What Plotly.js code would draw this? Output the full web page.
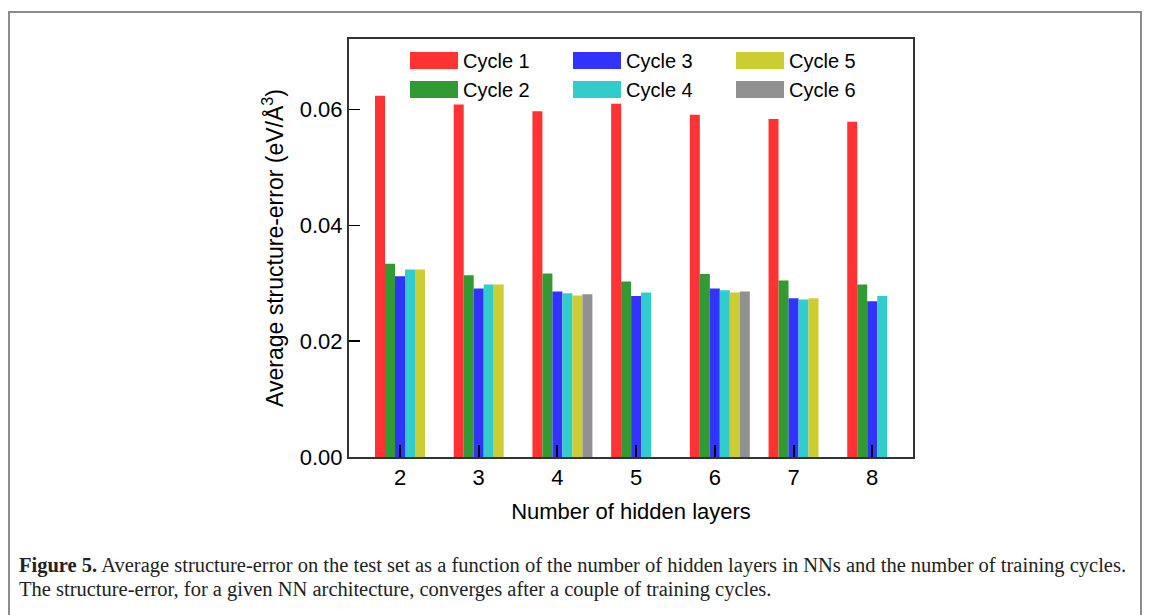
<!DOCTYPE html>
<html>
<head>
<meta charset="utf-8">
<script src="https://cdn.plot.ly/plotly-3.0.1.min.js"></script>
<style>html,body{margin:0;padding:0;background:#fff;}#chart{width:1153px;height:615px;}</style>
</head>
<body>
<div id="chart"></div>
<script>
// ---- data ----
const layers = [2, 3, 4, 5, 6, 7, 8];
const cycleNames = ["Cycle 1", "Cycle 2", "Cycle 3", "Cycle 4", "Cycle 5", "Cycle 6"];
const cycle1 = [0.0624, 0.0609, 0.0597, 0.0610, 0.0591, 0.0584, 0.0579];
const cycle2 = [0.0334, 0.0314, 0.0317, 0.0303, 0.0316, 0.0305, 0.0298];
const cycle3 = [0.0312, 0.0291, 0.0286, 0.0278, 0.0291, 0.0274, 0.0269];
const cycle4 = [0.0324, 0.0298, 0.0283, 0.0284, 0.0288, 0.0272, 0.0278];
const cycle5 = [0.0324, 0.0298, 0.0279, null, 0.0284, 0.0274, null];
const cycle6 = [null, null, 0.0281, null, 0.0286, null, null];
const yTickVals = [0, 0.02, 0.04, 0.06];
const yTickText = ["0.00", "0.02", "0.04", "0.06"];
const colors = ["#ff3333", "#339933", "#3333ff", "#33cccc", "#cccc33", "#919191"];

// ---- geometry helpers (pixels -> paper) ----
const W = 1153, H = 615;
const L = 349, R = 913, T = 39, B = 457;
const px = x => (x - L) / (R - L);
const py = y => (B - y) / (B - T);

const series = [cycle1, cycle2, cycle3, cycle4, cycle5, cycle6];
const barW = 0.127;
const traces = series.map((vals, i) => ({
  type: "bar",
  name: cycleNames[i],
  x: layers,
  y: vals,
  width: barW,
  offset: (i - 2.5) * barW,
  marker: {color: colors[i], line: {width: 0}},
  showlegend: false,
  hoverinfo: "x+y+name"
}));

const shapes = [];
const annotations = [];
// figure frame (open at bottom)
shapes.push({type: "path", xref: "paper", yref: "paper",
  path: `M ${px(9)} ${py(620)} L ${px(9)} ${py(12)} L ${px(1141)} ${py(12)} L ${px(1141)} ${py(620)}`,
  line: {color: "#8c8c8c", width: 2}});

// manual legend: column-major (1,2 | 3,4 | 5,6)
const colX = [410, 573, 736];
const rowY = [60.5, 89.5];
for (let i = 0; i < 6; i++) {
  const c = Math.floor(i / 2), r = i % 2;
  const x0 = colX[c], yc = rowY[r];
  shapes.push({type: "rect", xref: "paper", yref: "paper",
    x0: px(x0), x1: px(x0 + 48), y0: py(yc + 8.5), y1: py(yc - 8.5),
    fillcolor: colors[i], line: {width: 0}});
  annotations.push({xref: "paper", yref: "paper", x: px(x0 + 51), y: py(yc),
    xanchor: "left", yanchor: "middle", showarrow: false, text: cycleNames[i],
    font: {family: "Liberation Sans, Arial, sans-serif", size: 20, color: "#000"}});
}

// caption
const capFont = {family: "Liberation Serif, Times New Roman, serif", size: 20.5, color: "#222"};
annotations.push({xref: "paper", yref: "paper", x: px(17), y: py(566), xanchor: "left", yanchor: "middle",
  showarrow: false, font: capFont,
  text: "<b>Figure 5.</b> Average structure-error on the test set as a function of the number of hidden layers in NNs and the number of training cycles."});
annotations.push({xref: "paper", yref: "paper", x: px(17), y: py(589), xanchor: "left", yanchor: "middle",
  showarrow: false, font: capFont,
  text: "The structure-error, for a given NN architecture, converges after a couple of training cycles."});

const axisFont = {family: "Liberation Sans, Arial, sans-serif", size: 22, color: "#000"};
const yTitleFont = {family: "Liberation Sans, Arial, sans-serif", size: 23, color: "#000"};

const layout = {
  width: W, height: H,
  margin: {l: L, r: W - R, t: T, b: H - B, pad: 0},
  paper_bgcolor: "#fff", plot_bgcolor: "#fff",
  barmode: "overlay",
  showlegend: false,
  xaxis: {
    range: [1.352, 8.518], tickvals: layers, ticktext: layers.map(String),
    ticks: "inside", ticklen: 12, tickwidth: 2, tickcolor: "#000",
    showline: true, linecolor: "#333", linewidth: 2, mirror: true,
    showgrid: false, zeroline: false, tickfont: axisFont,
    title: {text: "Number of hidden layers", font: axisFont, standoff: 14}
  },
  yaxis: {
    range: [0, 0.0722], tickvals: yTickVals, ticktext: yTickText,
    ticks: "inside", ticklen: 11, tickwidth: 1.5, tickcolor: "#000",
    showline: true, linecolor: "#333", linewidth: 2, mirror: true,
    showgrid: false, zeroline: false, tickfont: axisFont,
    title: {text: "Average structure-error (eV/Å<sup>3</sup>)", font: yTitleFont, standoff: 10}
  },
  shapes: shapes,
  annotations: annotations
};

Plotly.newPlot("chart", traces, layout, {staticPlot: true, displayModeBar: false});
</script>
</body>
</html>
